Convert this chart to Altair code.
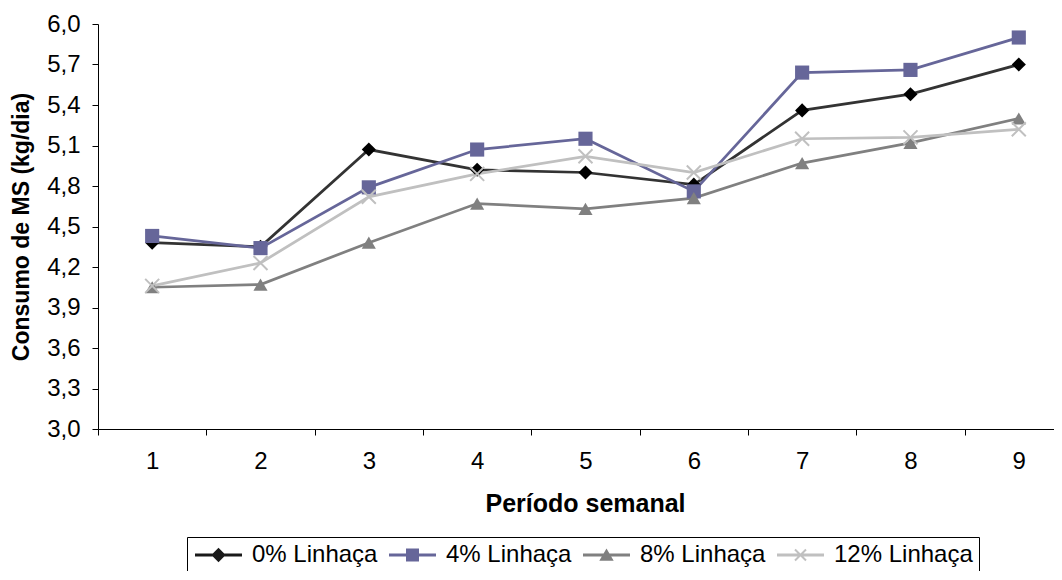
import altair as alt
import pandas as pd

# ---- data ----
periods = [1, 2, 3, 4, 5, 6, 7, 8, 9]
series_names = ["0% Linhaça", "4% Linhaça", "8% Linhaça", "12% Linhaça"]
s0 = [4.38, 4.35, 5.07, 4.92, 4.90, 4.81, 5.36, 5.48, 5.70]
s4 = [4.43, 4.34, 4.79, 5.07, 5.15, 4.76, 5.64, 5.66, 5.90]
s8 = [4.05, 4.07, 4.38, 4.67, 4.63, 4.71, 4.97, 5.12, 5.30]
s12 = [4.06, 4.23, 4.72, 4.89, 5.02, 4.90, 5.15, 5.16, 5.22]
y_ticks = [3.0, 3.3, 3.6, 3.9, 4.2, 4.5, 4.8, 5.1, 5.4, 5.7, 6.0]
x_ticks = [0.5, 1, 1.5, 2, 2.5, 3, 3.5, 4, 4.5, 5, 5.5, 6, 6.5, 7, 7.5, 8, 8.5, 9]
x_domain = [0.5, 9.325]

line_colors = ["#333333", "#666699", "#808080", "#C0C0C0"]
marker_colors = ["#000000", "#666699", "#808080", "#C0C0C0"]

rows = []
for name, vals in zip(series_names, [s0, s4, s8, s12]):
    for p, v in zip(periods, vals):
        rows.append({"periodo": p, "consumo": v, "serie": name})
df = pd.DataFrame(rows)

FONT = "Liberation Sans"

x_enc = alt.X(
    "periodo:Q",
    scale=alt.Scale(domain=x_domain, nice=False, zero=False),
    axis=alt.Axis(
        title="Período semanal",
        values=x_ticks,
        labelExpr="datum.value % 1 === 0 ? datum.value : ''",
        labelOverlap=False,
        labelFlush=False,
        tickOpacity={"condition": {"test": "datum.value % 1 === 0", "value": 0}, "value": 1},
        tickSize=6,
        tickColor="black",
        domainColor="black",
        labelColor="black",
        labelFont=FONT,
        labelFontSize=24,
        labelPadding=14,
        titleFont=FONT,
        titleFontSize=25,
        titleFontWeight="bold",
        titleColor="black",
        titlePadding=18,
        titleX=487,
        grid=False,
    ),
)
y_enc = alt.Y(
    "consumo:Q",
    scale=alt.Scale(domain=[3.0, 6.0], nice=False, zero=False),
    axis=alt.Axis(
        title="Consumo de MS (kg/dia)",
        values=y_ticks,
        labelExpr="replace(format(datum.value, '.1f'), '.', ',')",
        tickSize=6,
        tickColor="black",
        domainColor="black",
        labelColor="black",
        labelFont=FONT,
        labelFontSize=24,
        labelPadding=12,
        titleFont=FONT,
        titleFontSize=23,
        titleFontWeight="bold",
        titleColor="black",
        titlePadding=13,
        grid=False,
    ),
)

lines = alt.Chart(df).mark_line(strokeWidth=2.75).encode(
    x=x_enc,
    y=y_enc,
    color=alt.Color("serie:N", scale=alt.Scale(domain=series_names, range=line_colors), legend=None),
)

filled_names = series_names[:3]
pts = alt.Chart(df).transform_filter(
    alt.FieldOneOfPredicate(field="serie", oneOf=filled_names)
).mark_point(filled=True, opacity=1, size=200).encode(
    x=x_enc,
    y=y_enc,
    color=alt.Color("serie:N", scale=alt.Scale(domain=filled_names, range=marker_colors[:3]), legend=None),
    shape=alt.Shape("serie:N", scale=alt.Scale(domain=filled_names, range=["diamond", "square", "triangle-up"]), legend=None),
)

xpts = alt.Chart(df).transform_filter(
    alt.FieldEqualPredicate(field="serie", equal=series_names[3])
).mark_point(
    shape="M-1,-1L1,1M-1,1L1,-1", filled=False, opacity=1, size=196, strokeWidth=2, color=marker_colors[3]
).encode(x=x_enc, y=y_enc)

# legend symbols: line segment + marker (paths in units of 10 px)
cx = 1.35
line_part = "M-1.0,-0.14H3.7V0.14H-1.0Z"
diamond = f"M{cx},-0.72L{cx+0.72},0L{cx},0.72L{cx-0.72},0Z"
square = f"M{cx-0.65},-0.65H{cx+0.65}V0.65H{cx-0.65}Z"
triangle = f"M{cx},-0.66L{cx+0.72},0.58L{cx-0.72},0.58Z"
xa = (f"M{cx-0.48},-0.62L{cx+0.62},0.48L{cx+0.48},0.62L{cx-0.62},-0.48Z"
      f"M{cx-0.62},0.48L{cx+0.48},-0.62L{cx+0.62},-0.48L{cx-0.48},0.62Z")
legend_shapes = [line_part + diamond, line_part + square, line_part + triangle, line_part + xa]
legend_colors = ["#1a1a1a", "#666699", "#808080", "#C0C0C0"]

leg_df = pd.DataFrame({"periodo": [1, 1, 1, 1], "consumo": [2.0] * 4, "serie": series_names})
legend_layer = alt.Chart(leg_df).mark_point(filled=True, opacity=1, clip=True, size=1).encode(
    x=x_enc,
    y=y_enc,
    color=alt.Color(
        "serie:N",
        scale=alt.Scale(domain=series_names, range=legend_colors),
        legend=alt.Legend(
            title=None,
            orient="none",
            legendX=89,
            legendY=513,
            direction="horizontal",
            columns=4,
            symbolSize=400,
            symbolStrokeWidth=0,
            symbolOpacity=1,
            labelFont=FONT,
            labelFontSize=24,
            labelColor="black",
            labelOffset=35,
            labelLimit=300,
            columnPadding=9,
            padding=6,
            strokeColor="black",
            fillColor="white",
        ),
    ),
    shape=alt.Shape("serie:N", scale=alt.Scale(domain=series_names, range=legend_shapes)),
)

chart = (
    alt.layer(lines, pts, xpts, legend_layer)
    .resolve_scale(color="independent", shape="independent")
    .properties(
        width=956,
        height=405,
        autosize=alt.AutoSizeParams(type="none"),
        padding={"left": 90, "top": 16, "right": 0, "bottom": 142},
        background="white",
    )
    .configure_view(stroke=None)
)

chart.save("out.html", embed_options={"renderer": "svg", "actions": False})
